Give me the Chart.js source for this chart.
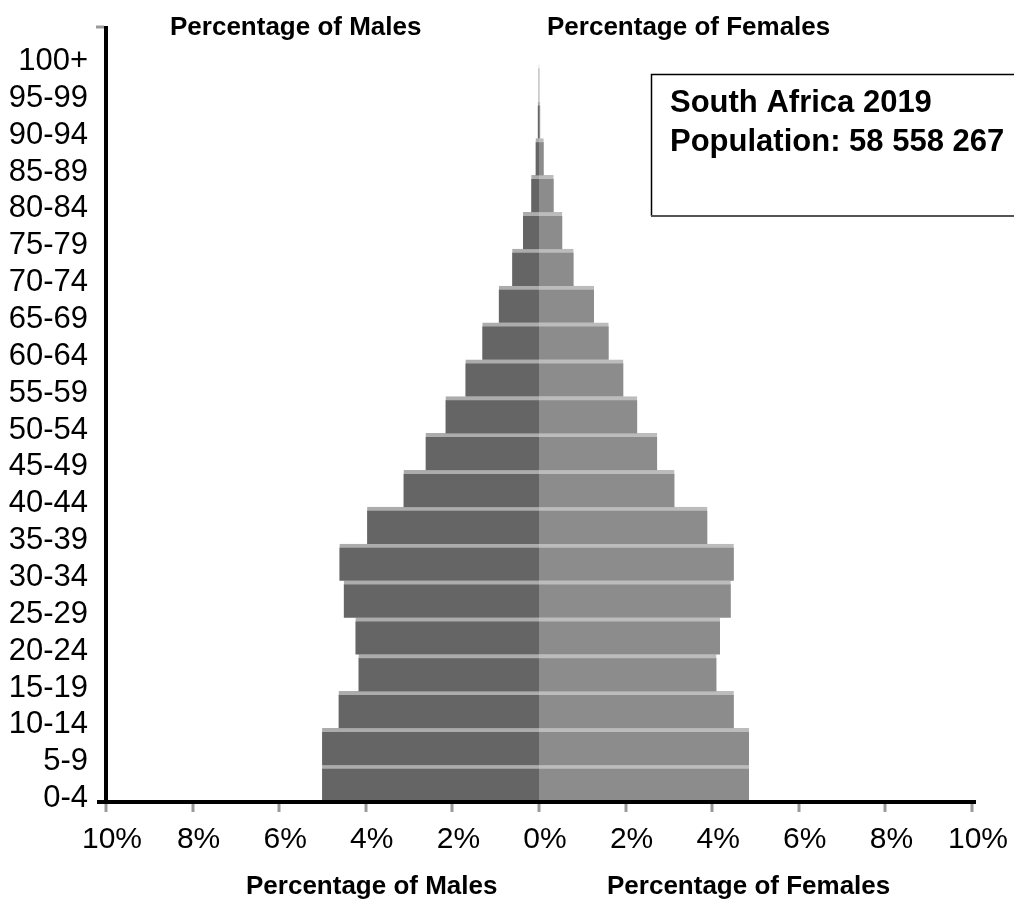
<!DOCTYPE html>
<html>
<head>
<meta charset="utf-8">
<script src="https://cdn.jsdelivr.net/npm/chart.js@4"></script>
<style>
html,body{margin:0;padding:0;background:#fff;}
#wrap{width:1014px;height:902px;position:relative;}
</style>
</head>
<body>
<div id="wrap"><canvas id="c" width="1014" height="902"></canvas></div>
<script>
// ---- data (bottom to top) ----
const ageGroups = ['0-4','5-9','10-14','15-19','20-24','25-29','30-34','35-39','40-44','45-49','50-54','55-59','60-64','65-69','70-74','75-79','80-84','85-89','90-94','95-99','100+'];
const malePct   = [5.01,5.01,4.63,4.17,4.24,4.51,4.61,3.97,3.13,2.62,2.16,1.70,1.31,0.93,0.62,0.37,0.18,0.08,0.03,0.01,0];
const femalePct = [4.85,4.85,4.50,4.10,4.18,4.43,4.50,3.89,3.13,2.73,2.27,1.95,1.61,1.27,0.80,0.54,0.34,0.11,0.03,0.01,0];
const xTickValues = [-10,-8,-6,-4,-2,0,2,4,6,8,10];
const titleMale = 'Percentage of Males';
const titleFemale = 'Percentage of Females';
const boxLine1 = 'South Africa 2019';
const boxLine2 = 'Population: 58 558 267';

const FONT = '"Liberation Sans", Arial, Helvetica, sans-serif';

const annotations = {
  id: 'annotations',
  afterDraw(chart) {
    const ctx = chart.ctx;
    const area = chart.chartArea;
    ctx.save();
    // axis line extensions
    ctx.strokeStyle = '#000';
    ctx.lineWidth = 4;
    ctx.beginPath();
    ctx.moveTo(97, area.bottom);
    ctx.lineTo(976, area.bottom);
    ctx.stroke();
    ctx.beginPath();
    ctx.moveTo(area.left, area.top - 2);
    ctx.lineTo(area.left, area.bottom + 2);
    ctx.stroke();
    ctx.strokeStyle = '#9a9a9a';
    ctx.lineWidth = 3;
    ctx.beginPath();
    ctx.moveTo(96, area.top - 1);
    ctx.lineTo(area.left - 2, area.top - 1);
    ctx.stroke();

    // titles
    ctx.fillStyle = '#000';
    ctx.textAlign = 'left';
    ctx.textBaseline = 'alphabetic';
    ctx.font = 'bold 26px ' + FONT;
    ctx.fillText(titleMale, 170, 35);
    ctx.fillText(titleFemale, 547, 35);
    ctx.fillText(titleMale, 246, 894);
    ctx.fillText(titleFemale, 607, 894);

    // info box
    ctx.strokeStyle = '#000';
    ctx.lineWidth = 1.5;
    ctx.beginPath();
    ctx.moveTo(1020, 74.5);
    ctx.lineTo(651.5, 74.5);
    ctx.lineTo(651.5, 216);
    ctx.stroke();
    ctx.strokeStyle = '#555';
    ctx.lineWidth = 2;
    ctx.beginPath();
    ctx.moveTo(651, 216);
    ctx.lineTo(1020, 216);
    ctx.stroke();
    ctx.font = 'bold 31px ' + FONT;
    ctx.fillText(boxLine1, 670, 112);
    ctx.fillText(boxLine2, 670, 151);
    ctx.restore();
  }
};

new Chart(document.getElementById('c'), {
  type: 'bar',
  data: {
    labels: ageGroups,
    datasets: [
      {
        label: 'Males',
        data: malePct.map(v => -v),
        backgroundColor: '#656565',
        borderColor: '#acacac',
        borderWidth: {top: 4, right: 0, bottom: 0, left: 0},
        borderSkipped: false,
        barPercentage: 1,
        categoryPercentage: 1
      },
      {
        label: 'Females',
        data: femalePct,
        backgroundColor: '#8c8c8c',
        borderColor: '#bcbcbc',
        borderWidth: {top: 4, right: 0, bottom: 0, left: 0},
        borderSkipped: false,
        barPercentage: 1,
        categoryPercentage: 1
      }
    ]
  },
  options: {
    indexAxis: 'y',
    responsive: false,
    animation: false,
    devicePixelRatio: 1,
    layout: {padding: {left: 0, right: 42, top: 28, bottom: 0}},
    plugins: {legend: {display: false}, tooltip: {enabled: false}},
    scales: {
      x: {
        type: 'linear',
        stacked: true,
        min: -10,
        max: 10,
        afterBuildTicks: (scale) => { scale.ticks = xTickValues.map(v => ({value: v})); },
        afterFit: (scale) => { scale.height = 100; },
        grid: {display: true, drawOnChartArea: false, drawTicks: true, lineWidth: 0, tickLength: 10, tickColor: '#9a9a9a', tickWidth: 3},
        border: {display: true, color: '#000', width: 4},
        ticks: {
          color: '#000',
          font: {family: FONT, size: 30},
          padding: 10,
          labelOffset: 6,
          maxRotation: 0,
          autoSkip: false,
          callback: (v) => Math.abs(v) + '%'
        }
      },
      y: {
        type: 'category',
        stacked: true,
        reverse: true,
        offset: true,
        afterFit: (scale) => { scale.width = 106; scale.paddingTop = 0; scale.paddingBottom = 0; },
        grid: {display: false, drawTicks: false},
        border: {display: true, color: '#000', width: 4},
        ticks: {
          color: '#000',
          font: {family: FONT, size: 31},
          padding: 18,
          labelOffset: 15,
          autoSkip: false
        }
      }
    }
  },
  plugins: [annotations]
});
</script>
</body>
</html>
